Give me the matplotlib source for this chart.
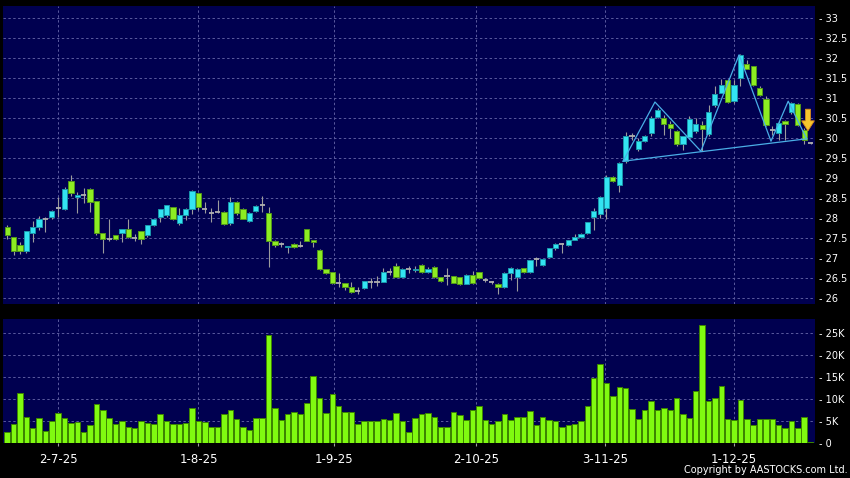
#!/usr/bin/env python3
"""Daily candlestick chart with volume panel (AASTOCKS style), saved to out.png."""

import matplotlib
matplotlib.use("Agg")
import matplotlib.pyplot as plt
from matplotlib.patches import FancyArrow
import numpy as np

# ---------------------------------------------------------------------------
# Colors
# ---------------------------------------------------------------------------
BG = "#000000"
PANEL = "#000050"
GRID = "#5a5a9e"
UP = "#33e4f2"
UP_EDGE = "#1a98ac"
DOWN = "#8dec22"
DOWN_EDGE = "#52981a"
FLAT = "#b0b0b0"
WICK = "#9c9c9c"
VOL = "#80fa10"
VOL_EDGE = "#3d8600"
PATTERN = "#4aaee6"
TEXT = "#ffffff"

# ---------------------------------------------------------------------------
# Data (one entry per trading day)
# ---------------------------------------------------------------------------
opens = [
    27.77, 27.52, 27.32, 27.18, 27.62, 27.77, 27.97, 28.02, 28.24, 28.22,
    28.92, 28.53, 28.57, 28.72, 28.42, 27.62, 27.48, 27.57, 27.62, 27.72,
    27.49, 27.67, 27.57, 27.82, 28.02, 28.07, 28.27, 27.87, 28.07, 28.22,
    28.62, 28.22, 28.13, 28.16, 28.16, 27.87, 28.41, 28.23, 27.93, 28.18,
    28.33, 28.12, 27.43, 27.35, 27.27, 27.35, 27.31, 27.72, 27.45, 27.20,
    26.72, 26.64, 26.37, 26.37, 26.28, 26.17, 26.24, 26.41, 26.41, 26.41,
    26.66, 26.81, 26.53, 26.72, 26.70, 26.82, 26.64, 26.77, 26.52, 26.55,
    26.54, 26.52, 26.36, 26.57, 26.65, 26.45, 26.39, 26.36, 26.27, 26.62,
    26.52, 26.74, 26.65, 26.97, 26.82, 27.02, 27.24, 27.36, 27.32, 27.45,
    27.52, 27.62, 28.03, 28.10, 28.25, 29.02, 28.82, 29.42, 30.04, 29.72,
    29.93, 30.12, 30.52, 30.50, 30.36, 30.17, 29.85, 30.02, 30.18, 30.32,
    30.10, 30.83, 31.12, 31.44, 30.92, 31.50, 31.85, 31.79, 31.25, 30.98,
    30.21, 30.13, 30.43, 30.65, 30.85, 30.19, 29.87,
]
highs = [
    27.82, 27.53, 27.41, 27.67, 27.92, 28.06, 28.02, 28.20, 28.53, 28.78,
    29.08, 28.66, 28.75, 28.74, 28.42, 27.62, 27.97, 27.57, 27.73, 27.97,
    27.60, 27.68, 27.82, 27.97, 28.22, 28.33, 28.28, 28.25, 28.25, 28.70,
    28.62, 28.41, 28.24, 28.45, 28.17, 28.52, 28.42, 28.26, 28.14, 28.32,
    28.55, 28.27, 27.44, 27.40, 27.31, 27.37, 27.42, 27.72, 27.46, 27.23,
    26.73, 26.64, 26.63, 26.38, 26.41, 26.28, 26.43, 26.49, 26.55, 26.74,
    26.74, 26.87, 26.74, 26.80, 26.80, 26.85, 26.78, 26.79, 26.53, 26.75,
    26.56, 26.53, 26.60, 26.68, 26.66, 26.49, 26.42, 26.38, 26.64, 26.78,
    26.74, 26.76, 26.96, 27.03, 26.98, 27.25, 27.38, 27.38, 27.46, 27.60,
    27.62, 27.90, 28.25, 28.56, 29.08, 29.05, 29.40, 30.15, 30.12, 30.00,
    30.08, 30.56, 30.75, 30.58, 30.42, 30.21, 30.04, 30.55, 30.50, 30.42,
    30.83, 31.29, 31.48, 31.48, 31.46, 32.10, 31.96, 31.81, 31.29, 31.04,
    30.31, 30.42, 30.45, 30.90, 30.88, 30.25, 29.90,
]
lows = [
    27.47, 27.07, 27.10, 27.12, 27.41, 27.70, 27.66, 27.97, 28.02, 28.20,
    28.55, 28.12, 28.37, 28.16, 27.57, 27.12, 27.43, 27.45, 27.41, 27.50,
    27.43, 27.35, 27.52, 27.80, 27.90, 28.03, 27.94, 27.82, 27.95, 28.10,
    28.20, 28.12, 27.91, 28.12, 27.82, 27.82, 28.07, 27.97, 27.90, 28.16,
    28.16, 26.78, 27.28, 27.27, 27.12, 27.25, 27.28, 27.42, 27.28, 26.70,
    26.60, 26.35, 26.28, 26.20, 26.12, 26.10, 26.22, 26.24, 26.30, 26.40,
    26.57, 26.52, 26.52, 26.63, 26.64, 26.63, 26.62, 26.50, 26.40, 26.33,
    26.37, 26.33, 26.34, 26.36, 26.48, 26.40, 26.36, 26.10, 26.26, 26.45,
    26.17, 26.62, 26.63, 26.80, 26.80, 27.00, 27.20, 27.12, 27.30, 27.44,
    27.51, 27.60, 27.70, 28.00, 27.97, 28.90, 28.64, 29.38, 29.95, 29.67,
    29.90, 30.06, 30.50, 30.08, 30.00, 29.80, 29.70, 29.98, 30.12, 29.67,
    30.05, 30.78, 31.12, 30.88, 30.88, 31.29, 31.72, 31.30, 31.05, 30.30,
    30.08, 29.96, 29.96, 30.60, 30.30, 29.86, 29.85,
]
closes = [
    27.57, 27.18, 27.18, 27.67, 27.77, 27.97, 27.97, 28.17, 28.24, 28.72,
    28.62, 28.57, 28.57, 28.41, 27.62, 27.47, 27.48, 27.47, 27.72, 27.52,
    27.49, 27.47, 27.82, 27.97, 28.22, 28.32, 27.97, 28.07, 28.22, 28.67,
    28.27, 28.22, 28.13, 28.16, 27.84, 28.41, 28.12, 27.98, 28.13, 28.30,
    28.33, 27.43, 27.32, 27.35, 27.31, 27.27, 27.31, 27.43, 27.40, 26.72,
    26.63, 26.37, 26.37, 26.28, 26.14, 26.17, 26.42, 26.41, 26.41, 26.66,
    26.66, 26.53, 26.72, 26.72, 26.73, 26.64, 26.73, 26.52, 26.42, 26.55,
    26.38, 26.36, 26.57, 26.38, 26.50, 26.45, 26.39, 26.27, 26.63, 26.74,
    26.72, 26.65, 26.94, 26.97, 26.97, 27.24, 27.34, 27.36, 27.45, 27.52,
    27.60, 27.89, 28.18, 28.52, 29.02, 28.93, 29.38, 30.04, 30.04, 29.93,
    30.06, 30.49, 30.71, 30.35, 30.25, 29.85, 30.04, 30.47, 30.34, 30.22,
    30.65, 31.10, 31.32, 30.90, 31.33, 32.08, 31.73, 31.32, 31.07, 30.32,
    30.21, 30.38, 30.35, 30.88, 30.33, 29.94, 29.87,
]
volumes_k = [
    2.6, 4.5, 11.5, 6.0, 3.6, 5.8, 2.9, 5.0, 6.9, 5.7,
    4.7, 4.9, 2.5, 4.1, 8.9, 7.7, 5.8, 4.4, 5.0, 3.7,
    3.6, 5.0, 4.7, 4.5, 6.7, 5.1, 4.4, 4.5, 4.7, 8.0,
    5.1, 4.8, 3.7, 3.7, 6.7, 7.5, 5.6, 3.8, 3.0, 5.8,
    5.8, 24.6, 8.0, 5.4, 6.7, 7.2, 6.6, 9.1, 15.3, 10.3,
    6.9, 11.1, 8.5, 7.2, 7.1, 4.4, 5.1, 5.0, 5.2, 5.5,
    5.3, 7.0, 5.0, 2.6, 5.7, 6.7, 6.8, 6.0, 3.7, 3.8,
    7.1, 6.5, 5.3, 7.6, 8.5, 5.4, 4.4, 5.1, 6.6, 5.4,
    5.9, 6.1, 7.4, 4.1, 6.1, 5.4, 5.1, 3.8, 4.3, 4.4,
    5.0, 8.4, 14.9, 17.9, 13.8, 10.8, 12.8, 12.5, 7.8, 5.5,
    7.5, 9.7, 7.5, 8.0, 7.6, 10.2, 6.7, 5.8, 11.9, 26.8,
    9.6, 10.2, 13.1, 5.5, 5.3, 9.8, 5.5, 4.2, 5.5, 5.6,
    5.6, 4.1, 3.5, 5.1, 3.5, 6.0, 0.3,
]

date_tick_idx = [8, 30, 51.3, 73.5, 93.8, 114]
date_tick_labels = ["2-7-25", "1-8-25", "1-9-25", "2-10-25", "3-11-25", "1-12-25"]

price_ticks = [26, 26.5, 27, 27.5, 28, 28.5, 29, 29.5, 30, 30.5, 31, 31.5, 32, 32.5, 33]
volume_ticks_k = [0, 5, 10, 15, 20, 25]

# chart pattern drawn on the price panel (zig-zag and neckline)
zigzag_idx = [96.6, 101.6, 108.8, 114.8, 119.8, 122.5, 125.4]
zigzag_price = [29.42, 30.90, 29.67, 32.08, 29.92, 30.92, 29.98]
neck_idx = [96.6, 125.4]
neck_price = [29.42, 29.98]
arrow_idx = 125.6
arrow_from, arrow_to = 30.72, 30.18


def style_panel(ax):
    ax.set_facecolor(PANEL)
    for s in ax.spines.values():
        s.set_visible(False)
    ax.yaxis.tick_right()
    ax.tick_params(axis="y", length=0, pad=3, labelsize=7, labelcolor=TEXT)
    ax.grid(True, color=GRID, linestyle=(0, (2.5, 2.5)), linewidth=0.7)
    ax.set_axisbelow(True)


def main():
    idx = np.arange(len(opens))
    o = np.array(opens)
    c = np.array(closes)
    up = c > o
    down = c < o
    flat = c == o

    fig = plt.figure(figsize=(8.5, 4.78), dpi=100)
    fig.patch.set_facecolor(BG)

    ax = fig.add_axes([0.0041, 0.364, 0.9547, 0.6234])
    axv = fig.add_axes([0.0041, 0.0722, 0.9547, 0.2604])
    style_panel(ax)
    style_panel(axv)

    # --- Candles ---
    ax.vlines(idx, lows, highs, color=WICK, linewidth=0.8, zorder=2)
    ax.bar(idx[up], (c - o)[up], bottom=o[up], width=0.82,
           color=UP, edgecolor=UP_EDGE, linewidth=0.7, zorder=3)
    ax.bar(idx[down], (o - c)[down], bottom=c[down], width=0.82,
           color=DOWN, edgecolor=DOWN_EDGE, linewidth=0.7, zorder=3)
    ax.hlines(c[flat], idx[flat] - 0.41, idx[flat] + 0.41,
              color=FLAT, linewidth=1.3, zorder=3)

    # --- Pattern lines + arrow ---
    ax.plot(zigzag_idx, zigzag_price, color=PATTERN, linewidth=0.9, zorder=4)
    ax.plot(neck_idx, neck_price, color=PATTERN, linewidth=0.9, zorder=4)
    ax.add_patch(FancyArrow(arrow_idx, arrow_from, 0, arrow_to - arrow_from,
                            width=0.8, head_width=2.0, head_length=0.25,
                            length_includes_head=True, facecolor="#f7c62e",
                            edgecolor="#d88a18", linewidth=0.6, zorder=6))

    ax.set_xlim(-0.58, 126.7)
    ax.set_ylim(25.85, 33.3)
    ax.set_yticks(price_ticks)
    ax.set_yticklabels([f"- {p:g}" for p in price_ticks])
    ax.set_xticks(date_tick_idx)
    ax.tick_params(axis="x", length=0, labelbottom=False)

    # --- Volume ---
    axv.bar(idx, volumes_k, width=0.86, color=VOL, edgecolor=VOL_EDGE,
            linewidth=0.7, zorder=3)
    axv.set_xlim(-0.58, 126.7)
    axv.set_ylim(0, 28.2)
    axv.set_yticks(volume_ticks_k)
    axv.set_yticklabels([f"- {v}K" if v else "- 0" for v in volume_ticks_k])
    axv.set_xticks(date_tick_idx)
    axv.set_xticklabels(date_tick_labels)
    axv.tick_params(axis="x", length=2.5, width=0.8, color="#a0a0a0",
                    pad=4, labelsize=8.5, labelcolor=TEXT)

    fig.text(0.9976, 0.006, "Copyright by AASTOCKS.com Ltd.",
             ha="right", va="bottom", fontsize=7, color=TEXT)

    fig.savefig("out.png", dpi=100, facecolor=fig.get_facecolor())
    plt.close(fig)


if __name__ == "__main__":
    main()
